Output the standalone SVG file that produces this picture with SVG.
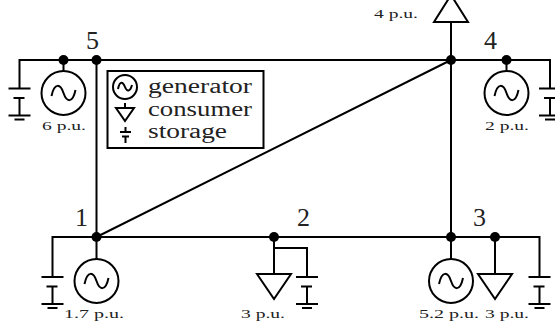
<svg xmlns="http://www.w3.org/2000/svg" width="555" height="331" viewBox="0 0 555 331">
<style>
.w{fill:none;stroke:#000;stroke-width:2}
.t{fill:#fff;stroke:#000;stroke-width:2;stroke-linejoin:miter}
.d{fill:#000}
text{font-family:"Liberation Serif","Times New Roman",serif;fill:#222}
.n{font-size:26px}
.l{font-size:20px}
.s{font-size:13px}
</style>
<defs>
<g id="gen"><circle r="22" class="w"/><path class="w" d="M-12 3C-9 -11 -3 -9 0 0S9 11 12 -3"/></g>
<g id="sto"><path class="w" d="M-11 0H11M-6 9.500H5M0 9.500V27M-11 27H11M-5 31H5"/></g>
</defs>
<g id="connectors">
<path class="w" d="M19.500 88V60H550V88"/>
<path class="w" d="M96.500 60V237M451 22V237M96.500 237L451 60"/>
<path class="w" d="M52.500 277V237H539.500V277"/>
<path class="w" d="M63.500 60V71M506.500 60V71M96.500 237V259M451 237V259M274 237V274M495 237V274M274 248H307V277"/>
</g>
<g id="node-5"><circle class="d" cx="96.500" cy="60" r="5"/><text class="n" x="86" y="49">5</text></g>
<g id="node-5b"><circle class="d" cx="63.500" cy="60" r="5"/><use href="#gen" x="63.500" y="93"/><use href="#sto" x="19.500" y="88.500"/><text class="s" x="42" y="130" textLength="44" lengthAdjust="spacingAndGlyphs">6 p.u.</text></g>
<g id="node-4"><circle class="d" cx="451" cy="60" r="5"/><polygon class="t" points="434,22 468,22 451,-5"/><text class="s" x="374" y="18" textLength="44" lengthAdjust="spacingAndGlyphs">4 p.u.</text></g>
<g id="node-4b"><circle class="d" cx="506.500" cy="60" r="5"/><use href="#gen" x="506.500" y="93"/><use href="#sto" x="550" y="88.500"/><text class="n" x="484" y="49">4</text><text class="s" x="485" y="130" textLength="44" lengthAdjust="spacingAndGlyphs">2 p.u.</text></g>
<g id="node-1"><circle class="d" cx="96.500" cy="237" r="5"/><use href="#gen" x="96.500" y="281"/><use href="#sto" x="52.500" y="277"/><text class="n" x="75" y="226">1</text><text class="s" x="64" y="318" textLength="60" lengthAdjust="spacingAndGlyphs">1.7 p.u.</text></g>
<g id="node-2"><circle class="d" cx="274" cy="237" r="5"/><polygon class="t" points="257,274 291,274 274,299"/><use href="#sto" x="307" y="277"/><text class="n" x="297" y="226">2</text><text class="s" x="241" y="318" textLength="44" lengthAdjust="spacingAndGlyphs">3 p.u.</text></g>
<g id="node-3"><circle class="d" cx="451" cy="237" r="5"/><use href="#gen" x="451" y="281"/><text class="n" x="473" y="226">3</text><text class="s" x="419" y="318" textLength="60" lengthAdjust="spacingAndGlyphs">5.2 p.u.</text></g>
<g id="node-3b"><circle class="d" cx="495" cy="237" r="5"/><polygon class="t" points="478,274 512,274 495,299"/><use href="#sto" x="539.500" y="277"/><text class="s" x="485" y="318" textLength="44" lengthAdjust="spacingAndGlyphs">3 p.u.</text></g>
<g id="legend">
<rect class="w" x="107.500" y="71" width="156" height="77"/>
<circle class="w" cx="125" cy="87" r="12"/><path class="w" d="M118 89C120 80 123 82 125 87S130 92 132 85"/>
<path class="w" d="M125 103V108"/><polygon class="t" points="116,108 134,108 125,121"/>
<path class="w" d="M125.500 127V132M120 132H131M122 136.500H129M125.500 136.500V143"/>
<text class="l" x="148" y="93" textLength="104" lengthAdjust="spacingAndGlyphs">generator</text>
<text class="l" x="148" y="115.500" textLength="104" lengthAdjust="spacingAndGlyphs">consumer</text>
<text class="l" x="148" y="138" textLength="79" lengthAdjust="spacingAndGlyphs">storage</text>
</g>
</svg>
